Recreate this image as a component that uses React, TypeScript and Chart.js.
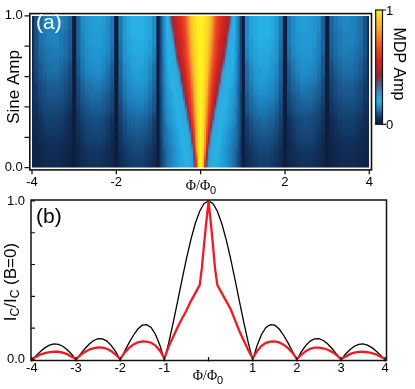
import React, { useEffect, useRef } from "react";
import { Chart, registerables } from "chart.js";

Chart.register(...registerables);

const SANS = "'Liberation Sans', Arial, Helvetica, sans-serif";
const SERIF = "'Liberation Serif', 'Times New Roman', serif";

// ---------- Panel (a): MDP amplitude map (symmetric in Phi; columns for Phi >= 0) ----------
const phiHalfCols = [
  0, 0.05, 0.1, 0.15, 0.2, 0.25, 0.3, 0.35, 0.4, 0.45, 0.5, 0.55, 0.6, 0.65, 0.7, 0.75, 0.8, 0.85, 0.9, 0.95, 1.0,
  1.1, 1.2, 1.3, 1.4, 1.5, 1.6, 1.7, 1.8, 1.9, 2.0,
  2.1, 2.2, 2.3, 2.4, 2.5, 2.6, 2.7, 2.8, 2.9, 3.0,
  3.1, 3.2, 3.3, 3.4, 3.5, 3.6, 3.7, 3.8, 3.9, 4.0,
];
const sineAmpRows = [
  0.975, 0.925, 0.875, 0.825, 0.775, 0.725, 0.675, 0.625, 0.575, 0.525,
  0.475, 0.425, 0.375, 0.325, 0.275, 0.225, 0.175, 0.125, 0.075, 0.025,
];
const mdpRows = [
  [1.0,.99,.97,.95,.92,.86,.78,.70,.64,.60,.57,.54,.51,.46,.36,.22,.20,.16,.13,.08,.015,
   .15,.18,.19,.20,.20,.20,.19,.17,.13,.015, .13,.15,.17,.175,.175,.17,.16,.15,.11,.015, .11,.13,.14,.145,.145,.14,.135,.12,.09,.04],
  [1.0,.99,.97,.95,.91,.85,.77,.69,.63,.59,.56,.53,.49,.44,.28,.21,.20,.16,.13,.08,.015,
   .15,.18,.19,.20,.20,.20,.19,.17,.13,.015, .13,.15,.17,.175,.175,.17,.16,.15,.11,.015, .11,.13,.14,.145,.145,.14,.135,.12,.09,.04],
  [1.0,.99,.97,.94,.90,.83,.75,.67,.62,.58,.55,.51,.46,.32,.22,.21,.20,.16,.13,.08,.015,
   .15,.18,.19,.20,.20,.20,.19,.17,.13,.015, .13,.15,.16,.17,.17,.17,.16,.14,.11,.015, .105,.12,.13,.14,.14,.14,.13,.12,.09,.04],
  [1.0,.99,.96,.93,.89,.81,.73,.65,.60,.56,.53,.49,.42,.25,.21,.21,.19,.16,.13,.08,.015,
   .15,.17,.185,.195,.195,.19,.18,.165,.125,.015, .13,.15,.16,.17,.17,.17,.16,.14,.11,.015, .105,.12,.13,.14,.14,.14,.13,.12,.09,.04],
  [1.0,.99,.96,.93,.88,.79,.71,.64,.59,.55,.51,.46,.32,.22,.21,.20,.19,.16,.13,.08,.015,
   .14,.17,.18,.19,.19,.19,.18,.16,.12,.015, .12,.145,.16,.165,.165,.16,.15,.14,.11,.015, .10,.12,.13,.135,.135,.13,.125,.115,.09,.04],
  [1.0,.99,.96,.92,.86,.77,.69,.62,.57,.53,.48,.42,.25,.21,.21,.20,.19,.16,.12,.08,.015,
   .14,.16,.175,.185,.185,.18,.17,.16,.12,.015, .12,.14,.15,.16,.16,.16,.15,.135,.10,.015, .10,.115,.125,.13,.13,.13,.12,.11,.085,.04],
  [1.0,.98,.95,.91,.83,.74,.66,.60,.55,.50,.44,.29,.22,.21,.21,.20,.18,.15,.12,.08,.015,
   .12,.15,.17,.18,.18,.18,.165,.15,.11,.015, .105,.13,.145,.155,.155,.15,.145,.13,.095,.015, .085,.105,.115,.125,.125,.12,.115,.10,.08,.04],
  [1.0,.98,.95,.90,.81,.71,.63,.57,.52,.46,.31,.22,.21,.21,.20,.19,.18,.15,.12,.08,.015,
   .12,.145,.165,.17,.175,.17,.16,.145,.11,.015, .10,.125,.14,.15,.15,.145,.14,.125,.095,.015, .08,.10,.11,.12,.12,.12,.11,.10,.075,.04],
  [1.0,.98,.94,.88,.78,.68,.61,.55,.49,.41,.24,.21,.21,.20,.20,.19,.17,.15,.12,.08,.015,
   .115,.14,.16,.17,.17,.165,.155,.14,.105,.015, .095,.115,.13,.14,.14,.135,.13,.115,.085,.015, .075,.09,.10,.11,.11,.11,.10,.09,.07,.04],
  [1.0,.98,.93,.86,.75,.65,.58,.52,.44,.28,.22,.21,.21,.20,.19,.18,.17,.14,.11,.08,.015,
   .11,.13,.15,.16,.16,.155,.145,.13,.10,.015, .09,.11,.12,.13,.13,.125,.12,.105,.08,.015, .07,.085,.095,.10,.10,.10,.09,.08,.06,.04],
  [1.0,.98,.93,.84,.72,.62,.56,.49,.36,.22,.21,.21,.20,.19,.18,.17,.16,.14,.11,.07,.015,
   .10,.125,.14,.15,.15,.145,.14,.125,.095,.015, .08,.10,.11,.12,.12,.12,.11,.10,.075,.015, .065,.08,.09,.095,.095,.095,.085,.08,.06,.04],
  [1.0,.97,.92,.81,.69,.60,.52,.42,.24,.21,.21,.20,.20,.19,.18,.17,.16,.14,.11,.07,.015,
   .095,.115,.13,.14,.14,.135,.13,.115,.085,.015, .075,.09,.10,.11,.11,.11,.10,.09,.07,.015, .06,.07,.08,.085,.085,.085,.08,.07,.055,.04],
  [1.0,.97,.91,.78,.66,.57,.47,.28,.22,.21,.21,.20,.19,.18,.17,.16,.15,.13,.11,.07,.015,
   .09,.11,.12,.13,.13,.125,.12,.105,.08,.015, .07,.085,.095,.10,.10,.10,.09,.08,.06,.015, .055,.065,.075,.08,.08,.08,.075,.065,.05,.04],
  [1.0,.97,.89,.75,.62,.52,.36,.23,.22,.21,.20,.20,.19,.18,.17,.16,.15,.13,.10,.07,.015,
   .07,.095,.11,.115,.12,.115,.11,.095,.07,.015, .055,.07,.08,.085,.09,.085,.08,.07,.055,.015, .04,.055,.065,.07,.07,.07,.065,.055,.04,.035],
  [1.0,.96,.87,.71,.58,.44,.25,.22,.21,.21,.20,.19,.18,.17,.16,.15,.14,.12,.10,.07,.015,
   .065,.085,.10,.105,.11,.105,.10,.085,.065,.015, .05,.065,.075,.08,.085,.08,.075,.065,.05,.015, .04,.05,.06,.065,.065,.065,.06,.05,.04,.035],
  [1.0,.96,.85,.66,.52,.30,.22,.21,.21,.20,.19,.18,.17,.16,.15,.14,.13,.12,.10,.07,.015,
   .06,.08,.09,.095,.10,.095,.09,.08,.06,.015, .045,.06,.07,.075,.075,.075,.07,.06,.045,.015, .035,.045,.055,.06,.06,.06,.055,.045,.035,.03],
  [1.0,.96,.83,.62,.45,.24,.22,.21,.20,.20,.19,.18,.17,.16,.15,.14,.13,.12,.09,.06,.015,
   .055,.07,.08,.085,.09,.085,.08,.07,.055,.015, .04,.055,.065,.07,.07,.07,.065,.055,.04,.015, .03,.04,.045,.05,.05,.05,.045,.04,.03,.03],
  [1.0,.95,.80,.52,.28,.23,.21,.21,.20,.19,.18,.17,.16,.15,.14,.13,.12,.11,.09,.06,.015,
   .05,.06,.07,.08,.08,.08,.07,.06,.05,.015, .035,.045,.055,.06,.06,.06,.055,.045,.035,.015, .03,.035,.04,.045,.045,.045,.04,.035,.03,.03],
  [1.0,.95,.70,.40,.25,.22,.21,.20,.20,.19,.18,.17,.16,.15,.14,.13,.12,.10,.08,.06,.015,
   .04,.055,.065,.07,.07,.07,.065,.055,.04,.015, .035,.045,.05,.055,.055,.055,.05,.045,.035,.015, .025,.03,.035,.04,.04,.04,.035,.03,.025,.025],
  [1.0,.94,.60,.35,.24,.22,.21,.20,.19,.19,.18,.17,.16,.15,.14,.13,.12,.10,.08,.06,.015,
   .04,.05,.06,.065,.065,.065,.06,.05,.04,.015, .03,.04,.045,.05,.05,.05,.045,.04,.03,.015, .025,.03,.035,.04,.04,.04,.035,.03,.025,.025],
];
const mapPhiTicks = [-4, -2, 0, 2, 4];
const mapAmpTicks = [0, 0.2, 0.4, 0.6, 0.8, 1.0];
const colorbarTicks = [0, 1];

// ---------- Panel (b): critical current patterns ----------
const phiB = [
  -4, -3.9, -3.8, -3.7, -3.6, -3.5, -3.4, -3.3, -3.2, -3.1,
  -3, -2.9, -2.8, -2.7, -2.6, -2.5, -2.4, -2.3, -2.2, -2.1,
  -2, -1.9, -1.8, -1.7, -1.6, -1.5, -1.4, -1.3, -1.2, -1.1,
  -1, -0.9, -0.8, -0.7, -0.6, -0.5, -0.4, -0.3, -0.2, -0.1,
  0,
  0.1, 0.2, 0.3, 0.4, 0.5, 0.6, 0.7, 0.8, 0.9, 1,
  1.1, 1.2, 1.3, 1.4, 1.5, 1.6, 1.7, 1.8, 1.9, 2,
  2.1, 2.2, 2.3, 2.4, 2.5, 2.6, 2.7, 2.8, 2.9, 3,
  3.1, 3.2, 3.3, 3.4, 3.5, 3.6, 3.7, 3.8, 3.9, 4,
];
const icBlack = [
  0, .028, .054, .077, .093, .10, .098, .086, .064, .035,
  0, .036, .07, .10, .122, .133, .132, .118, .09, .05,
  0, .054, .107, .155, .194, .218, .222, .204, .16, .09,
  0, .109, .234, .368, .505, .637, .757, .858, .935, .984,
  1,
  .984, .935, .858, .757, .637, .505, .368, .234, .109, 0,
  .09, .16, .204, .222, .218, .194, .155, .107, .054, 0,
  .05, .09, .118, .132, .133, .122, .10, .07, .036, 0,
  .035, .064, .086, .098, .10, .093, .077, .054, .028, 0,
];
const phiRed = [
  -4, -3.9, -3.8, -3.7, -3.6, -3.5, -3.4, -3.3, -3.2, -3.1,
  -3, -2.9, -2.8, -2.7, -2.6, -2.5, -2.4, -2.3, -2.2, -2.1,
  -2, -1.9, -1.8, -1.7, -1.6, -1.5, -1.4, -1.3, -1.2, -1.1,
  -1, -0.9, -0.8, -0.7, -0.6, -0.5, -0.4, -0.3, -0.2, -0.15, -0.1, -0.05,
  0,
  0.05, 0.1, 0.15, 0.2, 0.3, 0.4, 0.5, 0.6, 0.7, 0.8, 0.9,
  1, 1.1, 1.2, 1.3, 1.4, 1.5, 1.6, 1.7, 1.8, 1.9,
  2, 2.1, 2.2, 2.3, 2.4, 2.5, 2.6, 2.7, 2.8, 2.9,
  3, 3.1, 3.2, 3.3, 3.4, 3.5, 3.6, 3.7, 3.8, 3.9, 4,
];
const icRed = [
  .005, .02, .035, .043, .049, .052, .051, .046, .036, .02,
  .005, .03, .05, .065, .074, .078, .077, .07, .055, .032,
  .005, .045, .075, .097, .11, .116, .115, .108, .09, .058,
  .01, .085, .145, .205, .26, .31, .37, .42, .47, .58, .73, .87,
  .995,
  .87, .72, .57, .47, .42, .37, .32, .25, .18, .12, .06,
  .01, .055, .088, .107, .115, .116, .11, .096, .074, .045,
  .005, .032, .055, .07, .077, .077, .073, .064, .05, .03,
  .005, .02, .036, .045, .05, .051, .048, .042, .034, .02, .005,
];
const curvePhiTicks = [-4, -3, -2, -1, 0, 1, 2, 3, 4];
const curveIcTicks = [0, 0.2, 0.4, 0.6, 0.8, 1.0];

// ---------- colour map ----------
const cmapStops: number[][] = [
  [0.0, 11, 22, 51],
  [0.05, 16, 48, 90],
  [0.1, 26, 90, 144],
  [0.15, 31, 140, 200],
  [0.2, 39, 178, 230],
  [0.28, 61, 140, 192],
  [0.35, 90, 90, 128],
  [0.42, 140, 42, 60],
  [0.55, 216, 32, 32],
  [0.7, 238, 90, 36],
  [0.82, 247, 160, 42],
  [1.0, 255, 242, 32],
];
function mdpRGB(v: number): number[] {
  const t = Math.max(0, Math.min(1, v));
  for (let i = 1; i < cmapStops.length; i++) {
    const a = cmapStops[i - 1];
    const b = cmapStops[i];
    if (t <= b[0]) {
      const f = (t - a[0]) / (b[0] - a[0]);
      return [
        Math.round(a[1] + (b[1] - a[1]) * f),
        Math.round(a[2] + (b[2] - a[2]) * f),
        Math.round(a[3] + (b[3] - a[3]) * f),
      ];
    }
  }
  const l = cmapStops[cmapStops.length - 1];
  return [l[1], l[2], l[3]];
}

// full (mirrored) grid
const fullPhiCols = [...phiHalfCols.slice(1).map((v) => -v).reverse(), ...phiHalfCols];
const fullMdp = mdpRows.map((r) => [...r.slice(1).reverse(), ...r]);

// raster of the cells: every cell keeps its own value, each raster pixel is 0.025 wide
function buildMapRaster(): HTMLCanvasElement {
  const step = 0.025;
  const nx = Math.round(8 / step);
  const ny = sineAmpRows.length;
  const edges = fullPhiCols.map((c, i) => (i === 0 ? -4 : (fullPhiCols[i - 1] + c) / 2));
  edges.push(4);
  const colOf: number[] = [];
  let ci = 0;
  for (let p = 0; p < nx; p++) {
    const xm = -4 + (p + 0.5) * step;
    while (ci < fullPhiCols.length - 1 && xm >= edges[ci + 1]) ci++;
    colOf.push(ci);
  }
  const off = document.createElement("canvas");
  off.width = nx;
  off.height = ny;
  const octx = off.getContext("2d") as CanvasRenderingContext2D;
  const img = octx.createImageData(nx, ny);
  for (let j = 0; j < ny; j++) {
    for (let p = 0; p < nx; p++) {
      const c = mdpRGB(fullMdp[j][colOf[p]]);
      const k = (j * nx + p) * 4;
      img.data[k] = c[0];
      img.data[k + 1] = c[1];
      img.data[k + 2] = c[2];
      img.data[k + 3] = 255;
    }
  }
  octx.putImageData(img, 0, 0);
  return off;
}

type Part = { t: string; size: number; family?: string; dy?: number };
function drawParts(ctx: CanvasRenderingContext2D, parts: Part[], cx: number, baseY: number) {
  let w = 0;
  for (const p of parts) {
    ctx.font = `${p.size}px ${p.family || SANS}`;
    w += ctx.measureText(p.t).width;
  }
  let x = cx - w / 2;
  ctx.textAlign = "left";
  ctx.textBaseline = "alphabetic";
  for (const p of parts) {
    ctx.font = `${p.size}px ${p.family || SANS}`;
    ctx.fillText(p.t, x, baseY + (p.dy || 0));
    x += ctx.measureText(p.t).width;
  }
}

const phiTitle: Part[] = [
  { t: "Φ/Φ", size: 14, family: SERIF },
  { t: "0", size: 11, dy: 4 },
];

let mapRaster: HTMLCanvasElement | null = null;

const heatmapPlugin = {
  id: "mdpHeatmap",
  beforeDatasetsDraw(chart: any) {
    const { ctx, chartArea: ca } = chart;
    const xs = chart.scales.x;
    const ys = chart.scales.y;
    if (!mapRaster) mapRaster = buildMapRaster();
    const x0 = xs.getPixelForValue(-4);
    const x1 = xs.getPixelForValue(4);
    const y0 = ys.getPixelForValue(1);
    const y1 = ys.getPixelForValue(0);
    ctx.save();
    ctx.beginPath();
    ctx.rect(ca.left, ca.top, ca.right - ca.left, ca.bottom - ca.top);
    ctx.clip();
    ctx.imageSmoothingEnabled = true;
    ctx.imageSmoothingQuality = "high";
    ctx.drawImage(mapRaster, x0, y0, x1 - x0, y1 - y0);
    ctx.restore();
  },
  afterDraw(chart: any) {
    const { ctx, chartArea: ca } = chart;
    const xs = chart.scales.x;
    const ys = chart.scales.y;
    const w = ca.right - ca.left;
    const h = ca.bottom - ca.top;
    ctx.save();
    ctx.strokeStyle = "#fff";
    ctx.lineWidth = 1.4;
    ctx.strokeRect(ca.left - 0.7, ca.top - 0.7, w + 1.4, h + 1.4);
    ctx.strokeStyle = "#111";
    ctx.lineWidth = 1.6;
    ctx.strokeRect(ca.left - 2.2, ca.top - 2.2, w + 4.4, h + 4.4);
    ctx.lineWidth = 1.3;
    ctx.beginPath();
    for (const v of mapAmpTicks) {
      const py = ys.getPixelForValue(v);
      ctx.moveTo(ca.left - 7.5, py);
      ctx.lineTo(ca.left - 2.5, py);
    }
    for (const v of mapPhiTicks) {
      const px = xs.getPixelForValue(v);
      ctx.moveTo(px, ca.bottom + 2.5);
      ctx.lineTo(px, ca.bottom + 6.5);
    }
    ctx.stroke();

    // colour bar
    const cbL = 375.7, cbR = 382.5, cbT = 10, cbB = 124.3;
    const grad = ctx.createLinearGradient(0, cbB, 0, cbT);
    for (const s of cmapStops) grad.addColorStop(s[0], `rgb(${s[1]},${s[2]},${s[3]})`);
    ctx.fillStyle = grad;
    ctx.fillRect(cbL, cbT, cbR - cbL, cbB - cbT);
    ctx.strokeStyle = "#111";
    ctx.lineWidth = 1.2;
    ctx.strokeRect(cbL, cbT, cbR - cbL, cbB - cbT);
    ctx.beginPath();
    for (const v of colorbarTicks) {
      const py = cbB - (cbB - cbT) * v;
      ctx.moveTo(cbR, py);
      ctx.lineTo(cbR + 3.5, py);
    }
    ctx.stroke();
    ctx.fillStyle = "#000";
    ctx.font = `13px ${SANS}`;
    ctx.textAlign = "left";
    ctx.textBaseline = "middle";
    for (const v of colorbarTicks) {
      const py = cbB - (cbB - cbT) * v;
      ctx.fillText(String(v), cbR + 3.5, py + 1);
    }
    ctx.save();
    ctx.translate(393.5, 64);
    ctx.rotate(Math.PI / 2);
    ctx.font = `16px ${SANS}`;
    ctx.textAlign = "center";
    ctx.textBaseline = "alphabetic";
    ctx.fillText("MDP Amp", 0, 0);
    ctx.restore();

    ctx.save();
    ctx.translate(18.5, 87);
    ctx.rotate(-Math.PI / 2);
    ctx.font = `17px ${SANS}`;
    ctx.textAlign = "center";
    ctx.textBaseline = "alphabetic";
    ctx.fillText("Sine Amp", 0, 0);
    ctx.restore();

    ctx.fillStyle = "#000";
    drawParts(ctx, phiTitle, 201, 189.5);

    ctx.fillStyle = "#fff";
    ctx.font = `21px ${SANS}`;
    ctx.textAlign = "left";
    ctx.textBaseline = "alphabetic";
    ctx.fillText("(a)", 36, 29);
    ctx.restore();
  },
};

const curveDecor = {
  id: "curveDecor",
  afterDraw(chart: any) {
    const { ctx, chartArea: ca } = chart;
    const xs = chart.scales.x;
    const ys = chart.scales.y;
    ctx.save();
    ctx.strokeStyle = "#111";
    ctx.lineWidth = 1.5;
    ctx.strokeRect(ca.left, ca.top, ca.right - ca.left, ca.bottom - ca.top);
    ctx.lineWidth = 1.2;
    ctx.beginPath();
    for (const v of curveIcTicks) {
      const py = ys.getPixelForValue(v);
      ctx.moveTo(ca.left, py);
      ctx.lineTo(ca.left + 4, py);
    }
    for (const v of curvePhiTicks) {
      const px = xs.getPixelForValue(v);
      ctx.moveTo(px, ca.bottom + 1);
      ctx.lineTo(px, ca.bottom - 3.5);
    }
    ctx.stroke();

    ctx.fillStyle = "#000";
    drawParts(ctx, phiTitle, 208, 379.5);

    ctx.save();
    ctx.translate(16, 282);
    ctx.rotate(-Math.PI / 2);
    drawParts(
      ctx,
      [
        { t: "I", size: 17 },
        { t: "C", size: 12, dy: 3 },
        { t: "/I", size: 17 },
        { t: "C", size: 12, dy: 3 },
        { t: " (B=0)", size: 17 },
      ],
      0,
      0
    );
    ctx.restore();

    ctx.fillStyle = "#000";
    ctx.font = `21px ${SANS}`;
    ctx.textAlign = "left";
    ctx.textBaseline = "alphabetic";
    ctx.fillText("(b)", 36, 222.5);
    ctx.restore();
  },
};

const tickFont = { family: SANS, size: 13, lineHeight: 1 };

export default function App() {
  const refA = useRef<HTMLCanvasElement>(null);
  const refB = useRef<HTMLCanvasElement>(null);

  useEffect(() => {
    const W = 415, H = 389;
    const chartA = new Chart(refA.current as HTMLCanvasElement, {
      type: "scatter",
      data: { datasets: [] },
      options: {
        animation: false,
        responsive: false,
        devicePixelRatio: 1,
        events: [],
        layout: { padding: { left: 0, right: W - 369.3, top: 7.7, bottom: H - 167.7 - 25 } },
        plugins: { legend: { display: false }, tooltip: { enabled: false } },
        scales: {
          x: {
            type: "linear",
            min: -4,
            max: 4,
            grid: { display: false, drawTicks: false },
            border: { display: false },
            afterBuildTicks: (s: any) => {
              s.ticks = mapPhiTicks.map((v) => ({ value: v }));
            },
            afterFit: (s: any) => {
              s.height = 25;
            },
            ticks: {
              autoSkip: false,
              maxRotation: 0,
              padding: 8,
              color: "#000",
              font: tickFont,
              callback: (v: any) => (Number(v) === 0 ? "" : String(v)),
            },
          },
          y: {
            type: "linear",
            min: 0,
            max: 1,
            grid: { display: false, drawTicks: false },
            border: { display: false },
            afterBuildTicks: (s: any) => {
              s.ticks = mapAmpTicks.map((v) => ({ value: v }));
            },
            afterFit: (s: any) => {
              s.width = 32;
            },
            ticks: {
              autoSkip: false,
              padding: 9.3,
              color: "#000",
              font: tickFont,
              callback: (v: any) => {
                const n = Number(v);
                return Math.abs(n) < 1e-6 || Math.abs(n - 1) < 1e-6 ? n.toFixed(1) : "";
              },
            },
          },
        },
      },
      plugins: [heatmapPlugin],
    } as any);

    const chartB = new Chart(refB.current as HTMLCanvasElement, {
      type: "scatter",
      data: {
        datasets: [
          {
            label: "MDP-weighted",
            data: phiRed.map((x, i) => ({ x, y: icRed[i] })),
            showLine: true,
            borderColor: "#ec1c24",
            borderWidth: 2.3,
            pointRadius: 0,
            tension: 0,
          },
          {
            label: "Fraunhofer",
            data: phiB.map((x, i) => ({ x, y: icBlack[i] })),
            showLine: true,
            borderColor: "#000",
            borderWidth: 1.3,
            pointRadius: 0,
            tension: 0,
          },
        ],
      },
      options: {
        animation: false,
        responsive: false,
        devicePixelRatio: 1,
        events: [],
        layout: { padding: { left: 0, right: W - 386.5, top: 200, bottom: 0 } },
        plugins: { legend: { display: false }, tooltip: { enabled: false } },
        scales: {
          x: {
            type: "linear",
            min: -4.02,
            max: 4.03,
            grid: { display: false, drawTicks: false },
            border: { display: false },
            afterBuildTicks: (s: any) => {
              s.ticks = curvePhiTicks.map((v) => ({ value: v }));
            },
            afterFit: (s: any) => {
              s.height = H - 360.5;
            },
            ticks: {
              autoSkip: false,
              maxRotation: 0,
              padding: 1,
              color: "#000",
              font: tickFont,
              callback: (v: any) => (Number(v) === 0 ? "" : String(v)),
            },
          },
          y: {
            type: "linear",
            min: -0.004,
            max: 1.006,
            grid: { display: false, drawTicks: false },
            border: { display: false },
            afterBuildTicks: (s: any) => {
              s.ticks = curveIcTicks.map((v) => ({ value: v }));
            },
            afterFit: (s: any) => {
              s.width = 31;
            },
            ticks: {
              autoSkip: false,
              padding: 6,
              color: "#000",
              font: tickFont,
              callback: (v: any) => {
                const n = Number(v);
                return Math.abs(n) < 1e-6 || Math.abs(n - 1) < 1e-6 ? n.toFixed(1) : "";
              },
            },
          },
        },
      },
      plugins: [curveDecor],
    } as any);

    return () => {
      chartA.destroy();
      chartB.destroy();
    };
  }, []);

  const cs: React.CSSProperties = { position: "absolute", left: 0, top: 0, width: 415, height: 389 };
  return (
    <div style={{ position: "fixed", left: 0, top: 0, width: 415, height: 389, background: "#fff" }}>
      <canvas ref={refA} width={415} height={389} style={cs} />
      <canvas ref={refB} width={415} height={389} style={cs} />
    </div>
  );
}
